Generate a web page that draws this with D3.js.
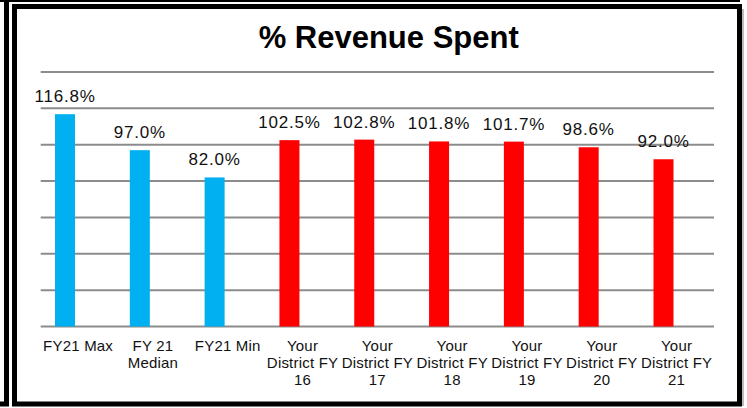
<!DOCTYPE html>
<html>
<head>
<meta charset="utf-8">
<script src="https://cdn.jsdelivr.net/npm/d3@7"></script>
<style>
  html, body { margin: 0; padding: 0; background: #fff; }
  svg { display: block; font-family: "Liberation Sans", Arial, sans-serif; }
</style>
</head>
<body>
<svg id="chart" width="747" height="408"></svg>
<script>
// ---- data ----
const categories = [
  "FY21 Max", "FY 21\nMedian", "FY21 Min",
  "Your\nDistrict FY\n16", "Your\nDistrict FY\n17", "Your\nDistrict FY\n18",
  "Your\nDistrict FY\n19", "Your\nDistrict FY\n20", "Your\nDistrict FY\n21"
];
const values = [116.8, 97.0, 82.0, 102.5, 102.8, 101.8, 101.7, 98.6, 92.0];
const groups = ["state", "state", "state", "district", "district", "district", "district", "district", "district"];
const yTicks = [0, 20, 40, 60, 80, 100, 120, 140];
const title = "% Revenue Spent";

// ---- layout ----
const W = 747, H = 408;
const plot = { left: 40.7, right: 714, top: 72, bottom: 326.5 };
const colors = { state: "#00B0F0", district: "#FF0000" };

const svg = d3.select("#chart");

// frames
svg.append("line").attr("x1", 0).attr("x2", 740).attr("y1", 1).attr("y2", 1)
  .attr("stroke", "#000").attr("stroke-width", 2);
svg.append("path").attr("d", "M6.5,0 V404 H0").attr("fill", "none")
  .attr("stroke", "#000").attr("stroke-width", 5);
svg.append("rect").attr("x", 741).attr("y", 9).attr("width", 3).attr("height", 397).attr("fill", "#bbb");
svg.append("rect").attr("x", 14.5).attr("y", 6.5).attr("width", 725).attr("height", 397.5)
  .attr("fill", "#fff").attr("stroke", "#000").attr("stroke-width", 5);

// scales
const x = d3.scaleBand().domain(categories).range([plot.left, plot.right]).paddingInner(0).paddingOuter(0);
const xSub = d3.scaleBand().domain(["value", "blank"]).range([0, x.bandwidth()])
  .paddingInner(0.237).paddingOuter(0.546);
const y = d3.scaleLinear().domain([0, 140]).range([plot.bottom, plot.top]);

// gridlines
svg.append("g").selectAll("line").data(yTicks).join("line")
  .attr("x1", plot.left).attr("x2", plot.right)
  .attr("y1", d => y(d)).attr("y2", d => y(d))
  .attr("stroke", "#8c8c8c").attr("stroke-width", 2);

// bars
const data = categories.map((c, i) => ({ c, v: values[i], g: groups[i] }));
svg.append("g").selectAll("rect").data(data).join("rect")
  .attr("x", d => x(d.c) + xSub("value"))
  .attr("width", xSub.bandwidth())
  .attr("y", d => y(d.v))
  .attr("height", d => y(0) - y(d.v))
  .attr("fill", d => colors[d.g]);

// value labels
svg.append("g").selectAll("text").data(data).join("text")
  .attr("x", d => x(d.c) + xSub("value") + xSub.bandwidth() / 2)
  .attr("y", d => y(d.v) - 12)
  .attr("text-anchor", "middle")
  .attr("font-size", 17)
  .attr("letter-spacing", 0.8)
  .attr("fill", "#111")
  .text(d => d.v.toFixed(1) + "%");

// category labels
const xl = svg.append("g").selectAll("text").data(categories).join("text")
  .attr("x", d => x(d) + x.bandwidth() / 2)
  .attr("y", plot.bottom + 24)
  .attr("text-anchor", "middle")
  .attr("font-size", 15)
  .attr("letter-spacing", 0.2)
  .attr("fill", "#111");
xl.each(function (d) {
  const t = d3.select(this);
  d.split("\n").forEach((line, i) => {
    t.append("tspan").attr("x", x(d) + x.bandwidth() / 2).attr("dy", i === 0 ? 0 : 17).text(line);
  });
});

// title
svg.append("text").attr("x", 388.7).attr("y", 48.3)
  .attr("text-anchor", "middle").attr("font-size", 31).attr("font-weight", "bold")
  .attr("fill", "#000").text(title);
</script>
</body>
</html>
